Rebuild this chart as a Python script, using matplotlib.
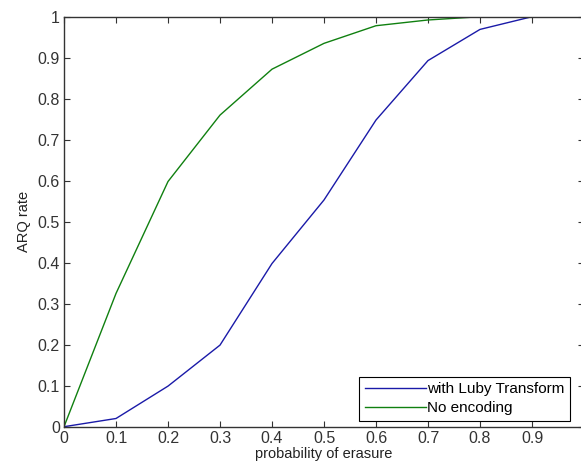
import matplotlib.pyplot as plt
import numpy as np

# probability of erasure vs ARQ rate
p_erasure = [0.0, 0.1, 0.2, 0.3, 0.4, 0.5, 0.6, 0.7, 0.8, 0.9]
arq_luby = [0.0, 0.02, 0.099, 0.199, 0.398, 0.553, 0.748, 0.893, 0.969, 1.0]
arq_plain = [0.0, 0.325, 0.598, 0.76, 0.872, 0.935, 0.978, 0.992, 1.0, 1.0]

x_ticks = np.round(np.arange(0, 1.01, 0.1), 1)
y_ticks = np.round(np.arange(0, 1.01, 0.1), 1)
# the "1" on the x axis falls outside the picture in the original
x_labels = ['0', '0.1', '0.2', '0.3', '0.4', '0.5', '0.6', '0.7', '0.8', '0.9', '']
y_labels = ['0', '0.1', '0.2', '0.3', '0.4', '0.5', '0.6', '0.7', '0.8', '0.9', '1']

plt.rcParams['font.family'] = ['Liberation Sans', 'DejaVu Sans']

fig = plt.figure(figsize=(5.81, 4.70), dpi=100)
W, H = 581, 470
left, right, top, bottom = 64, 584, 16.7, 426.7
ax = fig.add_axes([left / W, 1 - bottom / H, (right - left) / W, (bottom - top) / H])

ax.plot(p_erasure, arq_luby, color='#1a1aa8', lw=1.0, label='with Luby Transform')
ax.plot(p_erasure, arq_plain, color='#108010', lw=1.0, label='No encoding')

ax.set_xlim(0, 1)
ax.set_ylim(0, 1)
ax.set_xticks(x_ticks)
ax.set_xticklabels(x_labels)
ax.set_yticks(y_ticks)
ax.set_yticklabels(y_labels)
ax.tick_params(direction='in', top=True, right=True, length=4, width=0.8,
               labelsize=11.5, colors='#333333', labelcolor='#333333', pad=3)
for s in ax.spines.values():
    s.set_linewidth(1.0)
    s.set_color('#333333')

ax.set_xlabel('probability of erasure', fontsize=10.5, color='#222222', labelpad=1)
ax.set_ylabel('ARQ rate', fontsize=10.5, color='#222222', labelpad=5)

leg = ax.legend(loc='lower right', fontsize=11, handlelength=4.0, handletextpad=0.1,
                borderpad=0.35, labelspacing=0.35, fancybox=False, framealpha=1,
                edgecolor='black', borderaxespad=0.4, bbox_to_anchor=(0.985, 0.0))
leg.get_frame().set_linewidth(0.8)

plt.savefig('out.png', dpi=100)
